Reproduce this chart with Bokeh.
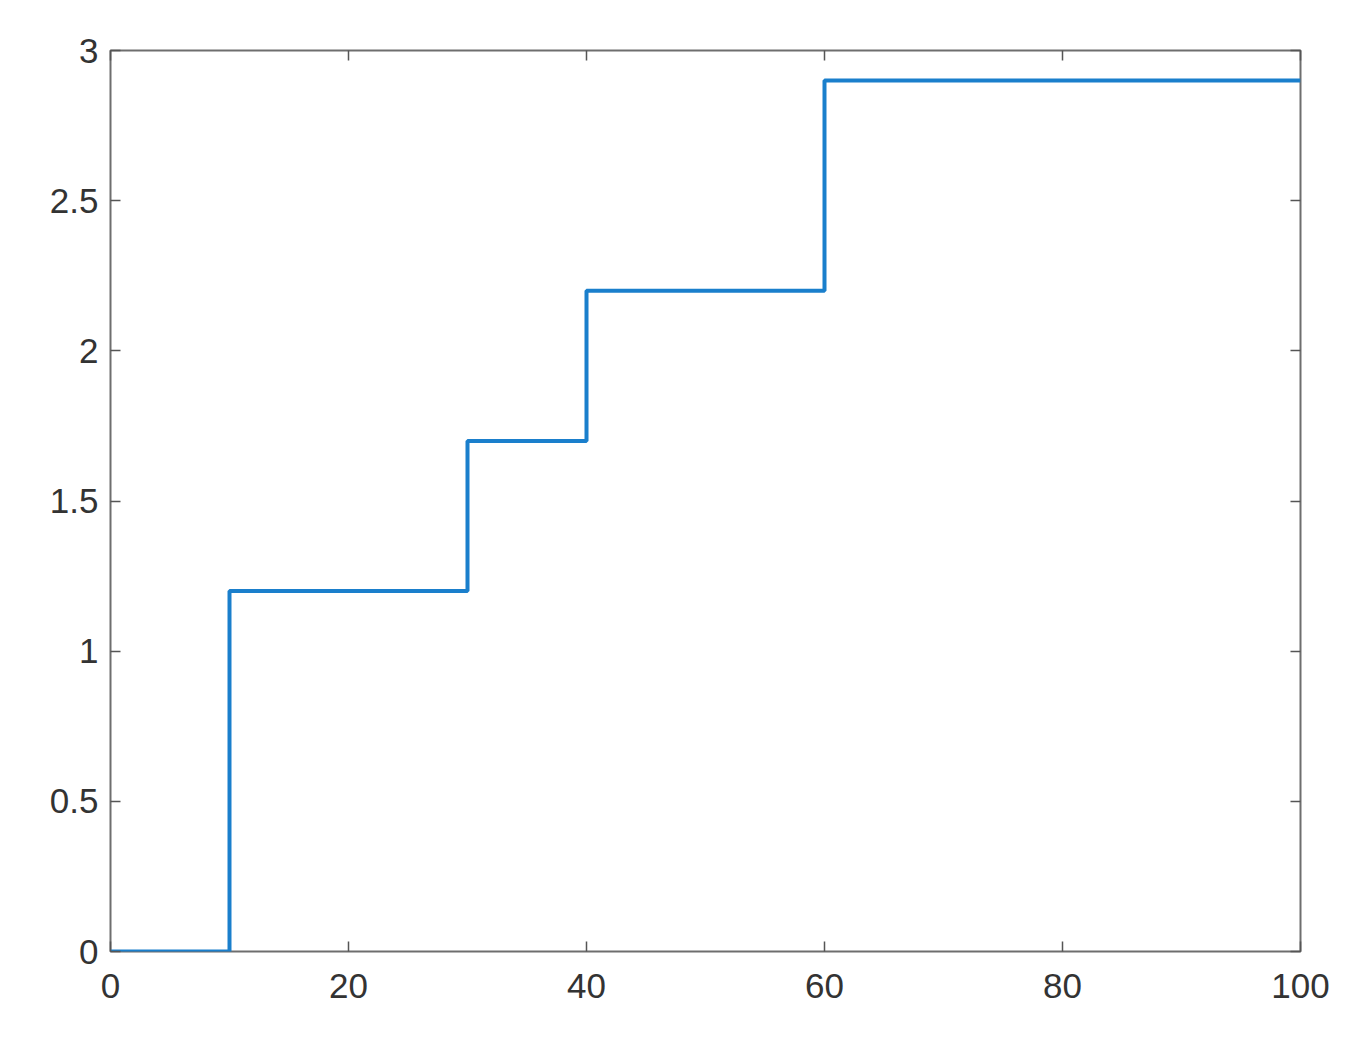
from bokeh.plotting import figure
from bokeh.models import LinearAxis, FixedTicker, Range1d
from bokeh.embed import file_html
from bokeh.resources import INLINE

x_steps = [0, 10, 30, 40, 60, 100]
y_steps = [0, 1.2, 1.7, 2.2, 2.9, 2.9]
x_ticks = [0, 20, 40, 60, 80, 100]
y_ticks = [0, 0.5, 1, 1.5, 2, 2.5, 3]
y_tick_labels = ["0", "0.5", "1", "1.5", "2", "2.5", "3"]

p = figure(width=1348, height=1040, output_backend="svg", toolbar_location=None,
           x_range=Range1d(0, 100), y_range=Range1d(0, 3),
           min_border_left=110, min_border_top=50, min_border_right=48, min_border_bottom=89,
           x_axis_location=None, y_axis_location=None)
p.grid.visible = False
p.outline_line_color = "#6e6e6e"
p.outline_line_width = 2
p.background_fill_color = "white"
p.border_fill_color = "white"

def style(ax, labels=True):
    ax.axis_line_color = None
    ax.major_tick_in = 10
    ax.major_tick_out = 0
    ax.major_tick_line_color = "#555555"
    ax.major_tick_line_width = 1.5
    ax.minor_tick_line_color = None
    ax.major_label_text_font = "Liberation Sans"
    ax.major_label_text_font_size = "35px"
    ax.major_label_text_color = "#333333"
    ax.major_label_standoff = 14
    if not labels:
        ax.major_label_overrides = {t: "" for t in ax.ticker.ticks}
        ax.major_label_standoff = 0

xb = LinearAxis(ticker=FixedTicker(ticks=x_ticks))
xb.major_label_overrides = {t: str(t) for t in x_ticks}
style(xb)
xb.major_label_standoff = 22
p.add_layout(xb, "below")
xa = LinearAxis(ticker=FixedTicker(ticks=x_ticks))
style(xa, labels=False)
p.add_layout(xa, "above")

yl = LinearAxis(ticker=FixedTicker(ticks=y_ticks))
yl.major_label_overrides = {t: l for t, l in zip(y_ticks, y_tick_labels)}
style(yl)
yl.major_label_standoff = 12
p.add_layout(yl, "left")
yr = LinearAxis(ticker=FixedTicker(ticks=y_ticks))
style(yr, labels=False)
p.add_layout(yr, "right")

p.step(x_steps, y_steps, mode="after", line_color="#1a7fcc", line_width=4)

open("out.html", "w").write(file_html(p, INLINE))
